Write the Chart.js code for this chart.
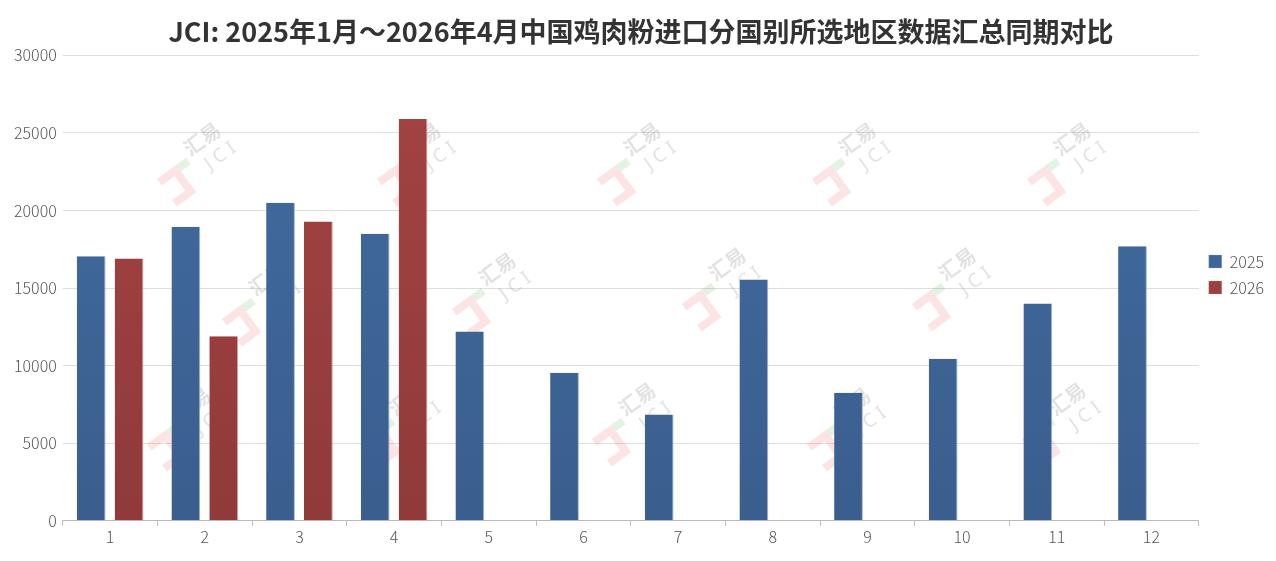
<!DOCTYPE html>
<html>
<head>
<meta charset="utf-8">
<script src="https://cdn.jsdelivr.net/npm/chart.js@4.4.1/dist/chart.umd.min.js"></script>
<style>
  html, body { margin: 0; padding: 0; background: #fff; }
  #wrap { width: 1276px; height: 561px; }
</style>
</head>
<body>
<div id="wrap"><canvas id="importChart"></canvas></div>
<script>
const titleText = "JCI: 2025年1月～2026年4月中国鸡肉粉进口分国别所选地区数据汇总同期对比";
const months = ["1", "2", "3", "4", "5", "6", "7", "8", "9", "10", "11", "12"];
const values2025 = [17050, 18950, 20500, 18500, 12200, 9550, 6850, 15550, 8250, 10450, 14000, 17700];
const values2026 = [16900, 11900, 19300, 25900];
const yTicks = [0, 5000, 10000, 15000, 20000, 25000, 30000];

// watermark spots (decoration only)
const marks = [
  [200, 160], [420, 160], [640, 160], [855, 160], [1070, 160],
  [265, 300], [495, 290], [725, 285], [955, 285],
  [190, 425], [405, 420], [635, 420], [850, 425], [1065, 420],
];

const watermark = {
  id: "watermark",
  beforeDatasetsDraw(chart) {
    const ctx = chart.ctx;
    ctx.save();
    marks.forEach(([x, y]) => {
      ctx.save();
      ctx.translate(x, y);
      ctx.rotate(-Math.PI / 5);
      // hook
      ctx.strokeStyle = "rgba(240,120,120,0.2)";
      ctx.lineWidth = 8;
      ctx.beginPath();
      ctx.moveTo(-46, -6);
      ctx.lineTo(-26, -6);
      ctx.lineTo(-26, 20);
      ctx.lineTo(-46, 20);
      ctx.stroke();
      ctx.strokeStyle = "rgba(120,190,120,0.2)";
      ctx.beginPath();
      ctx.moveTo(-22, -6);
      ctx.lineTo(-10, -6);
      ctx.stroke();
      ctx.fillStyle = "rgba(150,150,150,0.28)";
      ctx.font = "bold 20px 'Noto Sans CJK SC'";
      ctx.textBaseline = "middle";
      ctx.fillText("汇易", -6, -16);
      ctx.font = "19px 'Noto Sans'";
      ctx.fillText("J C I", 2, 9);
      ctx.restore();
    });
    ctx.restore();
  },
};

function barGradient(top, bottom) {
  return (context) => {
    const area = context.chart.chartArea;
    if (!area) return top;
    const g = context.chart.ctx.createLinearGradient(0, area.top, 0, area.bottom);
    g.addColorStop(0, top);
    g.addColorStop(1, bottom);
    return g;
  };
}

const tickFont = { family: "'Noto Sans CJK SC', 'Noto Sans', sans-serif", size: 16, weight: "300" };

new Chart(document.getElementById("importChart"), {
  type: "bar",
  data: {
    labels: months,
    datasets: [
      {
        label: "2025",
        data: values2025,
        backgroundColor: barGradient("#426ca1", "#3a5e8e"),
        borderColor: "#9db4d3",
        borderWidth: { top: 0, left: 0, bottom: 0, right: 1 },
        borderSkipped: false,
      },
      {
        label: "2026",
        data: values2026,
        backgroundColor: barGradient("#a54343", "#903a3a"),
        borderColor: "#d8a0a0",
        borderWidth: { top: 0, left: 0, bottom: 0, right: 1 },
        borderSkipped: false,
      },
    ],
  },
  options: {
    responsive: true,
    maintainAspectRatio: false,
    animation: false,
    categoryPercentage: 0.8,
    barPercentage: 0.76,
    layout: { padding: { left: 8, right: 2, top: 0, bottom: 12 } },
    plugins: {
      title: {
        display: true,
        text: titleText,
        color: "#333",
        font: { family: "'Noto Sans CJK SC', sans-serif", size: 27, weight: "bold" },
        padding: { top: 16, bottom: 7 },
      },
      legend: {
        position: "right",
        labels: {
          boxWidth: 13,
          boxHeight: 13,
          padding: 10,
          color: "#555",
          font: tickFont,
        },
      },
      tooltip: { enabled: false },
    },
    scales: {
      x: {
        grid: { offset: true, drawOnChartArea: false, tickLength: 5, color: "#bbb" },
        border: { color: "#bbb" },
        ticks: { color: "#555", font: tickFont, padding: 2 },
      },
      y: {
        min: 0,
        max: 30000,
        afterBuildTicks(scale) {
          scale.ticks = yTicks.map((v) => ({ value: v }));
        },
        grid: { color: "#ddd", lineWidth: 1, drawTicks: false },
        border: { display: false },
        ticks: { color: "#555", font: tickFont, padding: 6, callback: (v) => String(v) },
      },
    },
  },
  plugins: [watermark],
});
</script>
</body>
</html>
